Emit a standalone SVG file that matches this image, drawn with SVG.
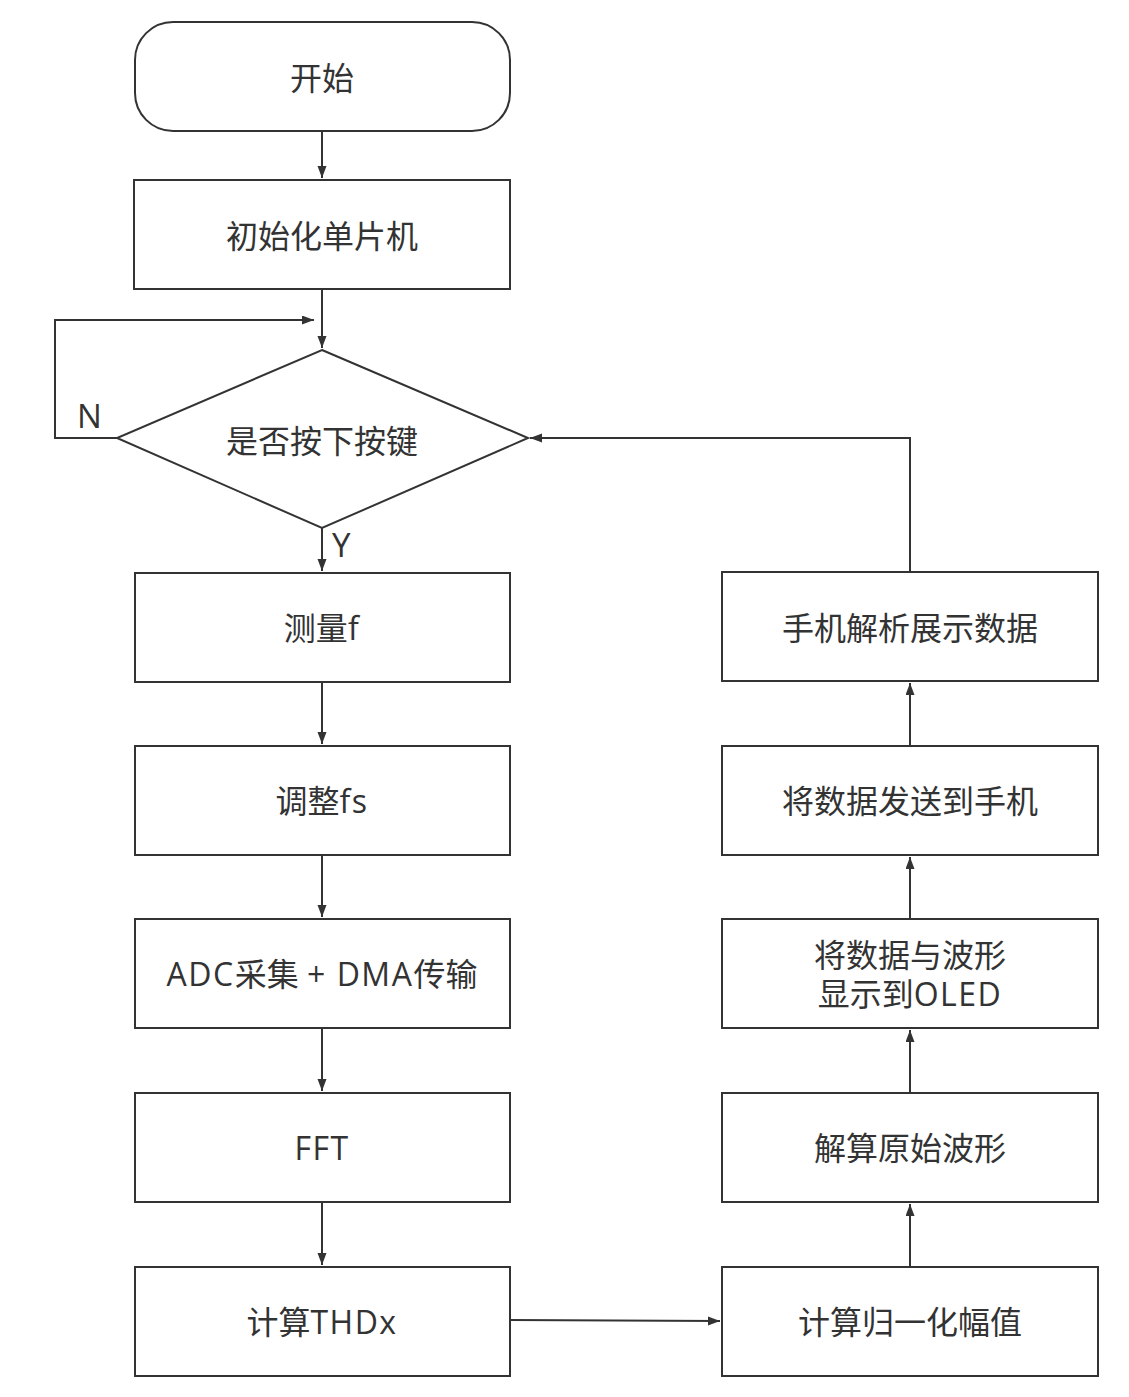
<svg xmlns="http://www.w3.org/2000/svg" width="1129" height="1397" viewBox="0 0 1129 1397">
<style>
.n{fill:#fff;stroke:#333;stroke-width:2}
.t{font-family:"Open Sans","Noto Sans CJK SC",sans-serif;font-size:32px;fill:#333;text-anchor:middle;dominant-baseline:central}
.e{letter-spacing:1.5px}
.c{fill:none;stroke:#333;stroke-width:2}
.l{font-family:"Open Sans","Noto Sans CJK SC",sans-serif;font-size:33px;fill:#333}
</style>
<defs>
<marker id="a" markerUnits="userSpaceOnUse" markerWidth="13" markerHeight="10" refX="12" refY="4.5" orient="auto">
<path d="M0,0 L12,4.5 L0,9 z" fill="#333"/>
</marker>
</defs>
<rect width="1129" height="1397" fill="#fff"/>
<g id="connectors">
<path class="c" d="M322,131 V178" marker-end="url(#a)"/>
<path class="c" d="M322,289 V348" marker-end="url(#a)"/>
<path class="c" d="M117,438 H55 V320 H314" marker-end="url(#a)"/>
<path class="c" d="M322,528 V571" marker-end="url(#a)"/>
<path class="c" d="M322,682 V744" marker-end="url(#a)"/>
<path class="c" d="M322,855 V917" marker-end="url(#a)"/>
<path class="c" d="M322,1028 V1091" marker-end="url(#a)"/>
<path class="c" d="M322,1202 V1265" marker-end="url(#a)"/>
<path class="c" d="M510,1320 L720,1321" marker-end="url(#a)"/>
<path class="c" d="M910,1267 V1204" marker-end="url(#a)"/>
<path class="c" d="M910,1093 V1030" marker-end="url(#a)"/>
<path class="c" d="M910,919 V857" marker-end="url(#a)"/>
<path class="c" d="M910,746 V683" marker-end="url(#a)"/>
<path class="c" d="M910,572 V438 H530" marker-end="url(#a)"/>
<text class="l" x="77" y="428">N</text>
<text class="l" x="332" y="557">Y</text>
</g>
<g id="start"><rect class="n" x="135" y="22" width="375" height="109" rx="38" ry="38"/><text class="t" x="322" y="77">开始</text></g>
<g id="init"><rect class="n" x="134" y="180" width="376" height="109"/><text class="t" x="322" y="235">初始化单片机</text></g>
<g id="decision"><polygon class="n" points="322,350 528,438 322,528 117,438"/><text class="t" x="322" y="440">是否按下按键</text></g>
<g id="measure"><rect class="n" x="135" y="573" width="375" height="109"/><text class="t" x="322" y="627">测量<tspan class="e">f</tspan></text></g>
<g id="adjust"><rect class="n" x="135" y="746" width="375" height="109"/><text class="t" x="322" y="800">调整<tspan class="e">fs</tspan></text></g>
<g id="adc"><rect class="n" x="135" y="919" width="375" height="109"/><text class="t" x="322" y="973"><tspan class="e">ADC</tspan>采集 <tspan class="e">+ DMA</tspan>传输</text></g>
<g id="fft"><rect class="n" x="135" y="1093" width="375" height="109"/><text class="t e" x="322" y="1147">FFT</text></g>
<g id="thd"><rect class="n" x="135" y="1267" width="375" height="109"/><text class="t" x="322" y="1321">计算<tspan class="e">THDx</tspan></text></g>
<g id="norm"><rect class="n" x="722" y="1267" width="376" height="109"/><text class="t" x="910" y="1321">计算归一化幅值</text></g>
<g id="wave"><rect class="n" x="722" y="1093" width="376" height="109"/><text class="t" x="910" y="1147">解算原始波形</text></g>
<g id="oled"><rect class="n" x="722" y="919" width="376" height="109"/><text class="t" x="910" y="954">将数据与波形</text><text class="t" x="910" y="993">显示到<tspan class="e">OLED</tspan></text></g>
<g id="send"><rect class="n" x="722" y="746" width="376" height="109"/><text class="t" x="910" y="800">将数据发送到手机</text></g>
<g id="phone"><rect class="n" x="722" y="572" width="376" height="109"/><text class="t" x="910" y="627">手机解析展示数据</text></g>
</svg>
